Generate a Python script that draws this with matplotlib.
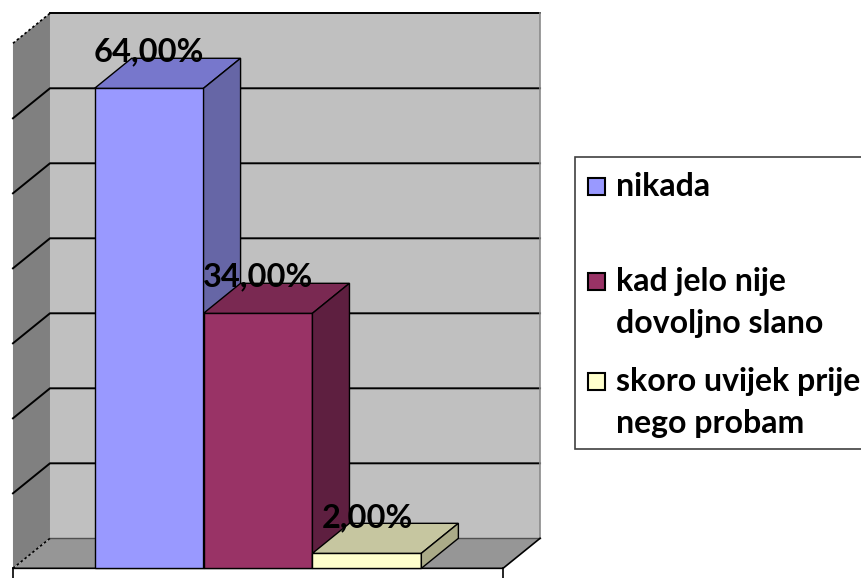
import matplotlib
matplotlib.use("Agg")
import matplotlib.pyplot as plt
from matplotlib.patches import Polygon, Rectangle

# data
categories = ['nikada', 'kad jelo nije\ndovoljno slano', 'skoro uvijek prije\nnego probam']
values = [64.0, 34.0, 2.0]
labels = ['64,00%', '34,00%', '2,00%']
front_colors = ['#9999FF', '#993366', '#FFFFCC']
top_colors = ['#7777CC', '#7A2952', '#C6C6A0']
side_colors = ['#6666A6', '#5E1F40', '#ABAB88']
y_max = 70
y_step = 10

plt.rcParams['font.family'] = ['Lato', 'DejaVu Sans']

W, H = 861, 578
fig = plt.figure(figsize=(W / 100, H / 100), dpi=100)
ax = fig.add_axes([0, 0, 1, 1])
ax.set_xlim(-0.869, 7.037)
ax.set_ylim(-1.29, 75.77)
ax.axis('off')

# 3d depth offset (x in bar widths, y in percent)
DX, DY = 0.34, 4.0
gap = 0.75
x0, x1 = -gap, len(values) + gap

# walls and floor
ax.add_patch(Polygon([(x0 + DX, DY), (x1 + DX, DY), (x1 + DX, y_max + DY), (x0 + DX, y_max + DY)],
                     closed=True, fc='#C0C0C0', ec='none', zorder=1))
ax.add_patch(Polygon([(x0, 0), (x0 + DX, DY), (x0 + DX, y_max + DY), (x0, y_max)],
                     closed=True, fc='#808080', ec='none', zorder=1))
ax.add_patch(Polygon([(x0, 0), (x1, 0), (x1 + DX, DY), (x0 + DX, DY)],
                     closed=True, fc='#969696', ec='none', zorder=1))

for v in range(y_step, y_max, y_step):
    ax.plot([x0, x0 + DX, x1 + DX], [v, v + DY, v + DY], color='black', lw=1.4, zorder=2)
ax.plot([x0 + DX, x1 + DX], [y_max + DY, y_max + DY], color='black', lw=1.4, zorder=2)
ax.plot([x1 + DX, x1 + DX], [DY, y_max + DY], color='#8a8a8a', lw=1.2, zorder=2)
ax.plot([x0 + DX, x1 + DX], [DY, DY], color='#505050', lw=1.0, zorder=2)
ax.plot([x0, x0 + DX], [y_max, y_max + DY], color='black', lw=1.2, ls=(0, (1.5, 1.5)), zorder=2)
ax.plot([x0, x0 + DX], [0, DY], color='black', lw=1.2, ls=(0, (1.5, 1.5)), zorder=2)
ax.plot([x0, x1, x1 + DX], [0, 0, DY], color='black', lw=1.2, zorder=2)
ax.plot([x0, x0], [0, -1.3], color='black', lw=1.2, zorder=2)
ax.plot([x1, x1], [0, -1.3], color='black', lw=1.2, zorder=2)

# bars, left to right so later bars cover earlier side faces
for i, v in enumerate(values):
    l, r = i, i + 1
    ax.add_patch(Polygon([(l, 0), (r, 0), (r, v), (l, v)], closed=True,
                         fc=front_colors[i], ec='black', lw=1.0, zorder=3))
    ax.add_patch(Polygon([(l, v), (r, v), (r + DX, v + DY), (l + DX, v + DY)], closed=True,
                         fc=top_colors[i], ec='black', lw=1.0, zorder=3))
    ax.add_patch(Polygon([(r, 0), (r + DX, DY), (r + DX, v + DY), (r, v)], closed=True,
                         fc=side_colors[i], ec='black', lw=1.0, zorder=3))

for i, v in enumerate(values):
    ax.text(i + 0.5, v + DY + 0.8, labels[i], ha='center', va='center',
            fontsize=23.5, fontweight='bold', color='black', zorder=5)

# legend box
def fx(px):
    return px / W

def fy(py):
    return 1 - py / H

fig.patches.append(Rectangle((fx(575), fy(449)), fx(320), 292 / H, transform=fig.transFigure,
                             fc='white', ec='#404040', lw=1.2, figure=fig))
entry_y = [186, 281, 381]
for i, cat in enumerate(categories):
    yc = entry_y[i]
    fig.patches.append(Rectangle((fx(588), fy(yc + 8.5)), fx(17), 17 / H, transform=fig.transFigure,
                                 fc=front_colors[i], ec='black', lw=1.5, figure=fig))
    for k, line in enumerate(cat.split('\n')):
        fig.text(fx(616), fy(yc + k * 42), line, ha='left', va='center',
                 fontsize=23, fontweight='bold', color='black')

fig.savefig('out.png', dpi=100)
